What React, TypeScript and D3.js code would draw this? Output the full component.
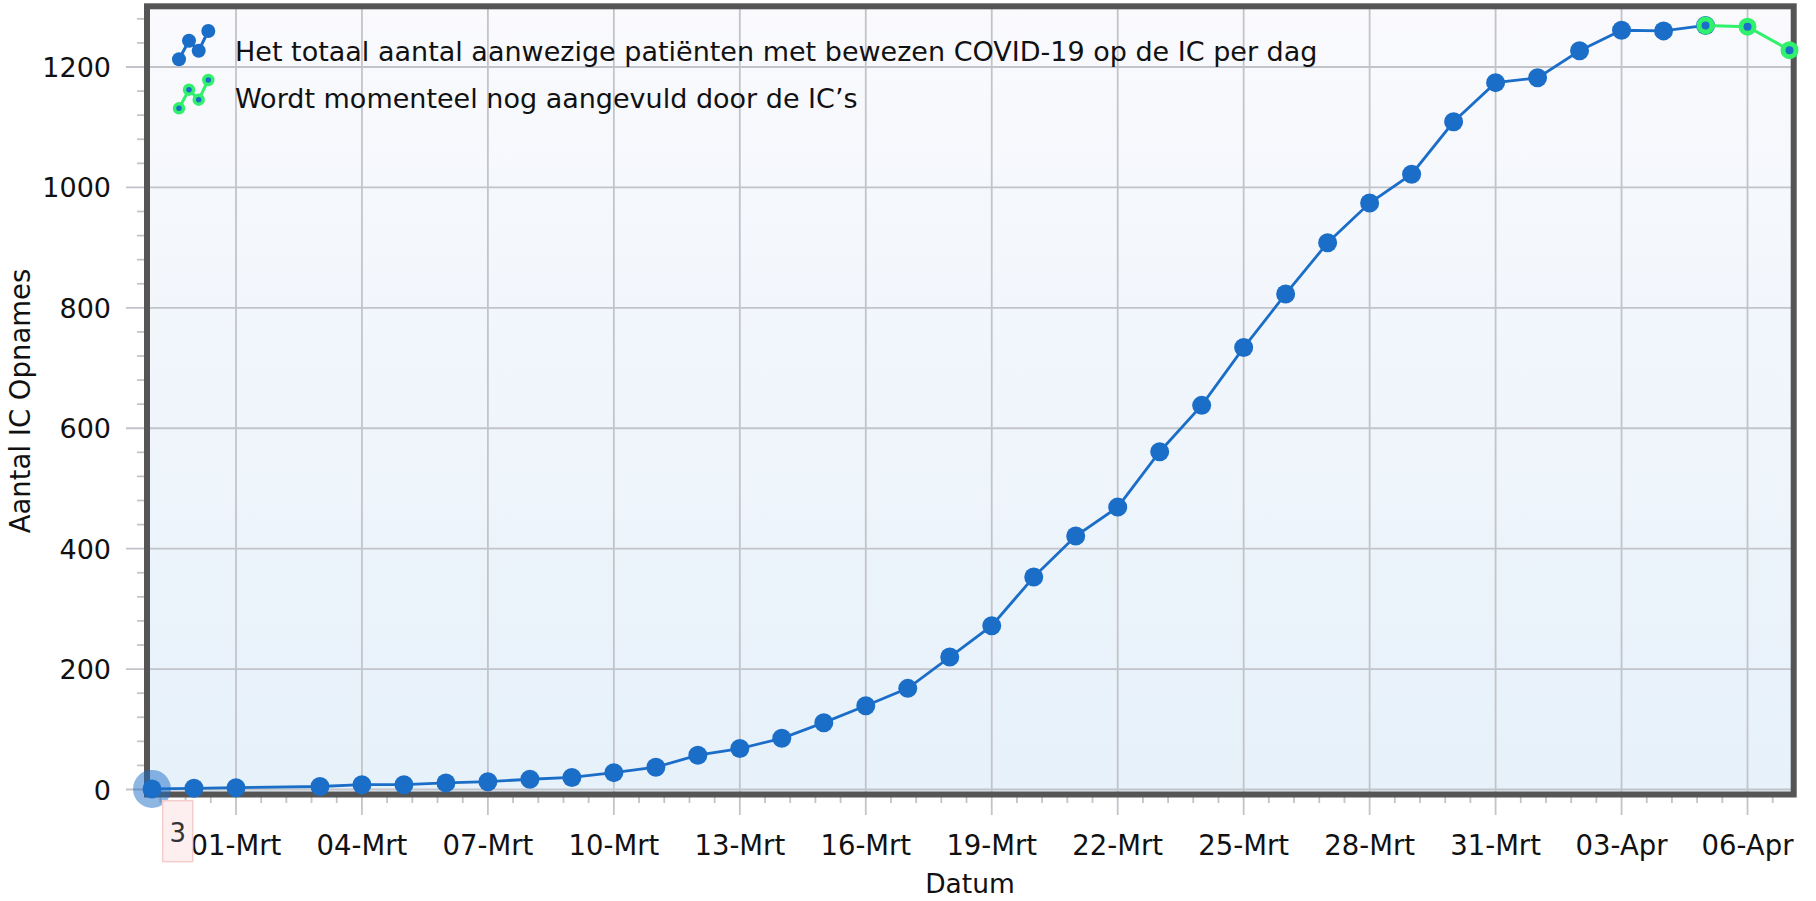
import React from "react";
import * as d3 from "d3";

// IC data (NICE)
const dates = [
  "2020-02-28", "2020-02-29", "2020-03-01", "2020-03-03", "2020-03-04",
  "2020-03-05", "2020-03-06", "2020-03-07", "2020-03-08", "2020-03-09",
  "2020-03-10", "2020-03-11", "2020-03-12", "2020-03-13", "2020-03-14",
  "2020-03-15", "2020-03-16", "2020-03-17", "2020-03-18", "2020-03-19",
  "2020-03-20", "2020-03-21", "2020-03-22", "2020-03-23", "2020-03-24",
  "2020-03-25", "2020-03-26", "2020-03-27", "2020-03-28", "2020-03-29",
  "2020-03-30", "2020-03-31", "2020-04-01", "2020-04-02", "2020-04-03",
  "2020-04-04", "2020-04-05",
];
const totaal = [
  1, 2, 3, 5, 8, 8, 11, 13, 17, 20,
  28, 37, 57, 68, 85, 111, 139, 168, 220, 272,
  353, 421, 469, 561, 638, 734, 823, 908, 974, 1022,
  1109, 1174, 1182, 1227, 1261, 1260, 1269,
];
const aanvulDates = ["2020-04-05", "2020-04-06", "2020-04-07"];
const aanvul = [1269, 1267, 1228];

const tickDates = [
  "2020-03-01", "2020-03-04", "2020-03-07", "2020-03-10", "2020-03-13",
  "2020-03-16", "2020-03-19", "2020-03-22", "2020-03-25", "2020-03-28",
  "2020-03-31", "2020-04-03", "2020-04-06",
];
const tickLabels = [
  "01-Mrt", "04-Mrt", "07-Mrt", "10-Mrt", "13-Mrt", "16-Mrt", "19-Mrt",
  "22-Mrt", "25-Mrt", "28-Mrt", "31-Mrt", "03-Apr", "06-Apr",
];
const yTicks = [0, 200, 400, 600, 800, 1000, 1200];

const seriesNames = [
  "Het totaal aantal aanwezige patiënten met bewezen COVID-19 op de IC per dag",
  "Wordt momenteel nog aangevuld door de IC\u2019s",
];

const BLUE = "#1b6ec8";
const GREEN = "#30f06c";
const GRID = "#c2c4c9";
const FONT = "DejaVu Sans";

const parse = (s: string) => {
  const [y, m, d] = s.split("-").map(Number);
  return new Date(Date.UTC(y, m - 1, d));
};

const W = 1816;
const H = 901;
const frame = { left: 147, top: 6.3, right: 1793.7, bottom: 794.5 };

export default function App() {
  const x = d3
    .scaleUtc()
    .domain([parse("2020-02-28"), parse("2020-04-07")])
    .range([152, 1789.5]);
  const y = d3.scaleLinear().domain([0, 1200]).range([789.5, 67]);

  const line = d3
    .line<[Date, number]>()
    .x((d) => x(d[0]))
    .y((d) => y(d[1]));

  const main: [Date, number][] = dates.map((d, i) => [parse(d), totaal[i]]);
  const green: [Date, number][] = aanvulDates.map((d, i) => [parse(d), aanvul[i]]);

  // minor ticks: 5 per major interval (0.6 day / 40 units)
  const day = 864e5;
  const xMinor: number[] = [];
  const t0 = parse(tickDates[0]).getTime();
  for (let k = -5; k <= 65; k++) {
    if (k % 5 === 0) continue;
    const px = x(new Date(t0 + k * 0.6 * day));
    if (px > frame.left + 2 && px < frame.right - 2) xMinor.push(px);
  }
  const yMinor: number[] = [];
  for (let v = 40; v <= 1280; v += 40) if (v % 200 !== 0) yMinor.push(y(v));

  const bluePts: [number, number][] = [
    [179, 59.3], [189, 40.7], [198.7, 50.7], [208.3, 31],
  ];
  const greenPts: [number, number][] = bluePts.map(([a, b]) => [a, b + 49]);

  const first = main[0];

  return (
    <svg
      width={W}
      height={H}
      style={{ position: "absolute", left: 0, top: 0, background: "#fff" }}
      fontFamily={FONT}
    >
      <defs>
        <linearGradient id="plotBg" x1="0" y1="0" x2="0" y2="1">
          <stop offset="0" stopColor="#fafafd" />
          <stop offset="1" stopColor="#e6f1fa" />
        </linearGradient>
      </defs>

      <rect
        x={frame.left}
        y={frame.top}
        width={frame.right - frame.left}
        height={frame.bottom - frame.top}
        fill="url(#plotBg)"
      />

      {/* grid + major ticks */}
      {tickDates.map((d) => (
        <line key={d} x1={x(parse(d))} x2={x(parse(d))} y1={frame.top} y2={815} stroke={GRID} strokeWidth={1.8} />
      ))}
      {yTicks.map((v) => (
        <line key={v} x1={126} x2={frame.right} y1={y(v)} y2={y(v)} stroke={GRID} strokeWidth={1.8} />
      ))}
      {xMinor.map((px, i) => (
        <line key={i} x1={px} x2={px} y1={frame.bottom} y2={803} stroke={GRID} strokeWidth={1.8} />
      ))}
      {yMinor.map((py, i) => (
        <line key={i} x1={137} x2={frame.left} y1={py} y2={py} stroke={GRID} strokeWidth={1.8} />
      ))}

      <rect
        x={frame.left}
        y={frame.top}
        width={frame.right - frame.left}
        height={frame.bottom - frame.top}
        fill="none"
        stroke="#555"
        strokeWidth={6}
      />

      {/* axis labels */}
      {yTicks.map((v) => (
        <text key={v} x={111} y={y(v) + 10} textAnchor="end" fontSize={27} fill="#111">
          {v}
        </text>
      ))}
      {tickDates.map((d, i) => (
        <text key={d} x={x(parse(d))} y={855} textAnchor="middle" fontSize={27.5} fill="#111">
          {tickLabels[i]}
        </text>
      ))}
      <text x={970} y={893} textAnchor="middle" fontSize={26.5} fill="#111">
        Datum
      </text>
      <text
        transform="translate(30,401) rotate(-90)"
        textAnchor="middle"
        fontSize={27.5}
        fill="#111"
      >
        Aantal IC Opnames
      </text>

      {/* legend */}
      <path d={d3.line()(bluePts) ?? ""} fill="none" stroke={BLUE} strokeWidth={3} />
      {bluePts.map(([a, b], i) => (
        <circle key={i} cx={a} cy={b} r={7} fill={BLUE} />
      ))}
      <path d={d3.line()(greenPts) ?? ""} fill="none" stroke={GREEN} strokeWidth={3} />
      {greenPts.map(([a, b], i) => (
        <circle key={i} cx={a} cy={b} r={4.5} fill={BLUE} stroke={GREEN} strokeWidth={3.5} />
      ))}
      <text x={235} y={61} fontSize={27} fill="#111">
        {seriesNames[0]}
      </text>
      <text x={235} y={108} fontSize={27} fill="#111">
        {seriesNames[1]}
      </text>

      {/* series */}
      <circle cx={x(first[0])} cy={y(first[1])} r={19} fill={BLUE} fillOpacity={0.5} />
      <path d={line(main) ?? ""} fill="none" stroke={BLUE} strokeWidth={2.8} />
      {main.map((d, i) => (
        <circle key={i} cx={x(d[0])} cy={y(d[1])} r={9.5} fill={BLUE} />
      ))}
      <path d={line(green) ?? ""} fill="none" stroke={GREEN} strokeWidth={3} />
      {green.map((d, i) => (
        <circle key={i} cx={x(d[0])} cy={y(d[1])} r={6.5} fill={BLUE} stroke={GREEN} strokeWidth={5} />
      ))}

      {/* hover label */}
      <rect x={162.7} y={800.7} width={30} height={61} fill="#fdeeee" fillOpacity={0.92} stroke="#f5cccc" strokeWidth={1.5} />
      <text x={177.7} y={841.7} textAnchor="middle" fontSize={26} fill="#333">
        {first[1] + 2}
      </text>
    </svg>
  );
}
